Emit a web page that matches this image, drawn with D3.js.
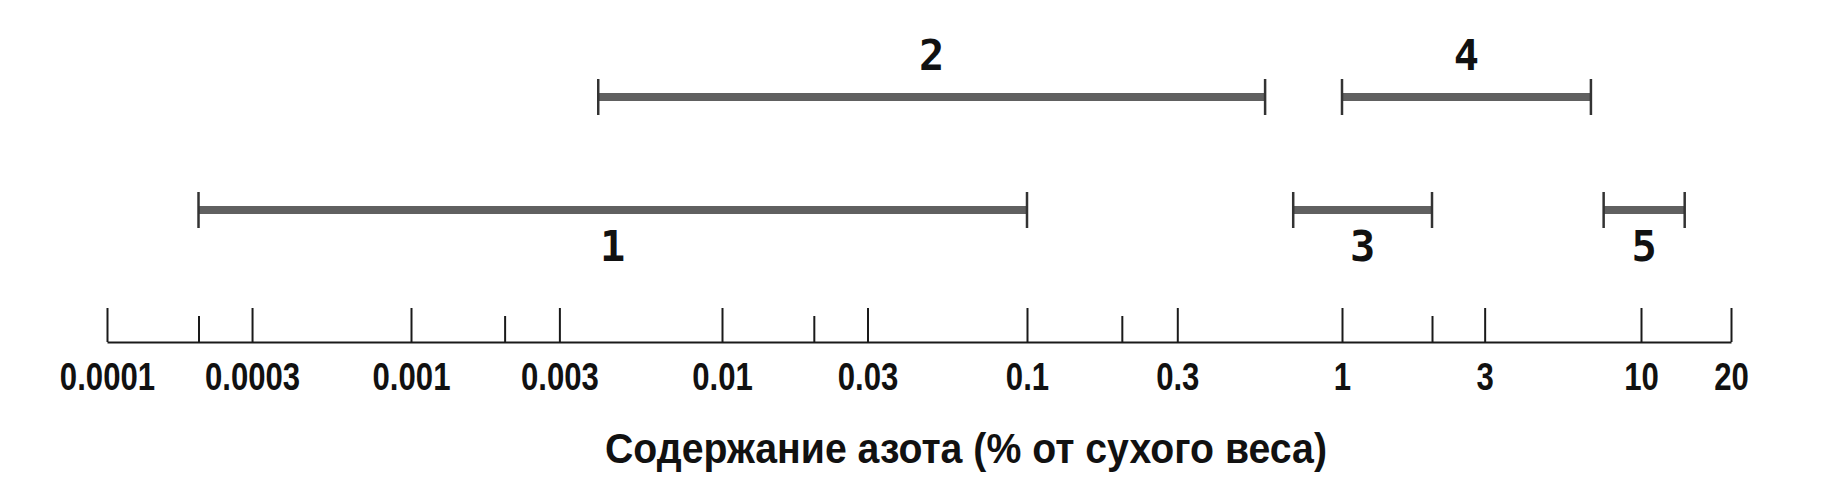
<!DOCTYPE html>
<html>
<head>
<meta charset="utf-8">
<script src="https://cdn.jsdelivr.net/npm/d3@7"></script>
<style>
  body { margin: 0; background: #fff; }
  svg { display: block; }
</style>
</head>
<body>
<div id="chart"></div>
<script>
// ranges of nitrogen content, % of dry weight
const categories = ["1", "2", "3", "4", "5"];
const rangeLow = [0.0002, 0.004, 0.7, 1, 7.5];
const rangeHigh = [0.1, 0.57, 2, 6.8, 14];
const rows = ["lower", "upper", "lower", "upper", "lower"];

const majorTicks = [0.0001, 0.0003, 0.001, 0.003, 0.01, 0.03, 0.1, 0.3, 1, 3, 10, 20];
const tickLabels = ["0.0001", "0.0003", "0.001", "0.003", "0.01", "0.03", "0.1", "0.3", "1", "3", "10", "20"];
const minorTicks = [0.0002, 0.002, 0.02, 0.2, 2];

const axisTitle = "Содержание азота (% от сухого веса)";

const width = 1846, height = 498;
const axisY = 342;
const narrow = "'Liberation Sans Narrow', 'Arial Narrow', 'Liberation Sans', sans-serif";

// the printed axis is a log axis drawn by hand, decades are not all equal
const x = d3.scaleLog()
    .domain([1e-4, 1e-3, 1e-2, 1e-1, 1, 10, 20])
    .range([107, 411, 722, 1027, 1342, 1641, 1731]);

const y = d3.scalePoint()
    .domain(["upper", "lower"])
    .range([97, 210]);

const svg = d3.select("#chart").append("svg")
    .attr("width", width)
    .attr("height", height);

svg.append("rect")
    .attr("width", width)
    .attr("height", height)
    .attr("fill", "#fff");

// minor ticks (no labels)
const minorAxis = svg.append("g")
    .attr("transform", `translate(0, ${axisY})`)
    .call(d3.axisBottom(x).tickValues(minorTicks).tickFormat("").tickSizeInner(-26).tickSizeOuter(0));
minorAxis.select(".domain").remove();
minorAxis.selectAll(".tick line").attr("stroke", "#1a1a1a").attr("stroke-width", 2);

// major ticks with labels
const majorAxis = svg.append("g")
    .attr("transform", `translate(0, ${axisY})`)
    .call(d3.axisBottom(x)
        .tickValues(majorTicks)
        .tickFormat((d, i) => tickLabels[i])
        .tickSizeInner(-34)
        .tickSizeOuter(0)
        .tickPadding(21));

majorAxis.select(".domain").attr("stroke", "#1a1a1a").attr("stroke-width", 2.2);
majorAxis.selectAll(".tick line").attr("stroke", "#1a1a1a").attr("stroke-width", 2);
majorAxis.selectAll(".tick text")
    .attr("fill", "#111")
    .attr("transform", "scale(0.82,1)")   // condensed look
    .style("font-family", narrow)
    .style("font-weight", "bold")
    .style("font-size", "38px");

// axis title
const title = svg.append("text")
    .attr("x", 966)
    .attr("y", 463)
    .attr("text-anchor", "middle")
    .attr("fill", "#111")
    .style("font-family", narrow)
    .style("font-weight", "bold")
    .style("font-size", "43px")
    .text(axisTitle);
title.attr("textLength", 722).attr("lengthAdjust", "spacingAndGlyphs");

// range bars
const bars = svg.append("g")
    .selectAll("g")
    .data(categories)
    .enter().append("g");

bars.append("line")
    .attr("x1", (d, i) => x(rangeLow[i]))
    .attr("x2", (d, i) => x(rangeHigh[i]))
    .attr("y1", (d, i) => y(rows[i]))
    .attr("y2", (d, i) => y(rows[i]))
    .attr("stroke", "#606060")
    .attr("stroke-width", 8);

[rangeLow, rangeHigh].forEach(vals => {
    bars.append("line")
        .attr("x1", (d, i) => x(vals[i]))
        .attr("x2", (d, i) => x(vals[i]))
        .attr("y1", (d, i) => y(rows[i]) - 18)
        .attr("y2", (d, i) => y(rows[i]) + 18)
        .attr("stroke", "#333")
        .attr("stroke-width", 2.5);
});

bars.append("text")
    .attr("x", (d, i) => (x(rangeLow[i]) + x(rangeHigh[i])) / 2)
    .attr("y", (d, i) => rows[i] == "upper" ? y(rows[i]) - 27 : y(rows[i]) + 51)
    .attr("text-anchor", "middle")
    .attr("fill", "#111")
    .style("font-family", "'DejaVu Sans Mono', monospace")
    .style("font-weight", "bold")
    .style("font-size", "42px")
    .text(d => d);
</script>
</body>
</html>
